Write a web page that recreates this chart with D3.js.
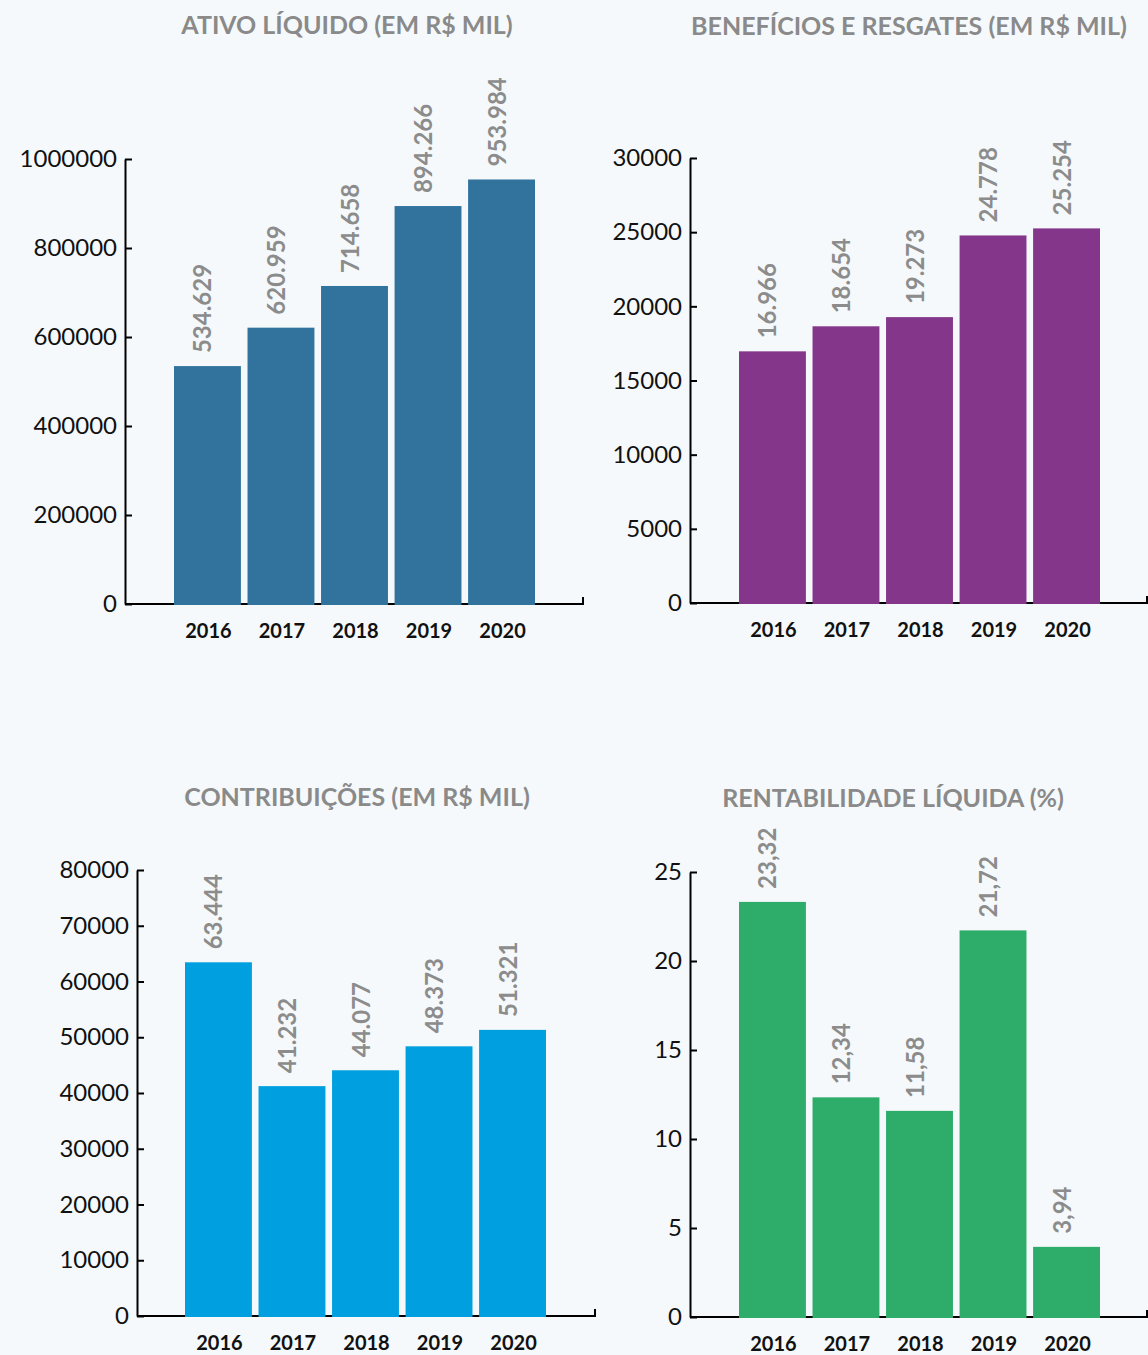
<!DOCTYPE html>
<html>
<head>
<meta charset="utf-8">
<script src="https://cdn.jsdelivr.net/npm/d3@7"></script>
<style>
  body { margin: 0; background: #f5f9fb; }
  svg { display: block; }
</style>
</head>
<body>
<svg id="canvas" width="1148" height="1355"></svg>
<script>
let years = ["2016", "2017", "2018", "2019", "2020"]

let ativoLiquido = [534629, 620959, 714658, 894266, 953984]
let beneficios = [16966, 18654, 19273, 24778, 25254]
let contribuicoes = [63444, 41232, 44077, 48373, 51321]
let rentabilidade = [23.32, 12.34, 11.58, 21.72, 3.94]

let titles = ["ATIVO LÍQUIDO (EM R$ MIL)", "BENEFÍCIOS E RESGATES (EM R$ MIL)", "CONTRIBUIÇÕES (EM R$ MIL)", "RENTABILIDADE LÍQUIDA (%)"]

let ativoTicks = [0, 200000, 400000, 600000, 800000, 1000000]
let beneficiosTicks = [0, 5000, 10000, 15000, 20000, 25000, 30000]
let contribuicoesTicks = [0, 10000, 20000, 30000, 40000, 50000, 60000, 70000, 80000]
let rentabilidadeTicks = [0, 5, 10, 15, 20, 25]

let br = d3.formatLocale({ decimal: ",", thousands: ".", grouping: [3], currency: ["R$", ""] })

let canvas = d3.select("#canvas")

let drawPanel = (cfg) => {
    let g = canvas.append("g")

    let y = d3.scaleLinear()
        .domain([0, d3.max(cfg.ticks)])
        .range([cfg.bottom, cfg.top])

    let x = d3.scaleBand()
        .domain(years)
        .range([cfg.barStart, cfg.barEnd])
        .paddingInner(0.09)
        .paddingOuter(0)

    // titulo
    g.append("text")
        .attr("x", cfg.titleX)
        .attr("y", cfg.titleY)
        .attr("text-anchor", "middle")
        .attr("fill", "#8a8a8a")
        .style("font-family", "Lato, 'Noto Sans', sans-serif")
        .style("font-weight", "bold")
        .style("font-size", "25px")
        .text(cfg.title)

    // eixo x (linha base)
    g.append("path")
        .attr("d", "M" + cfg.axisX + "," + cfg.bottom + "H" + cfg.axisEnd + "V" + (cfg.bottom - 7))
        .attr("fill", "none")
        .attr("stroke", "#000")
        .attr("stroke-width", 2)

    // eixo y
    let yAxis = g.append("g")
        .attr("transform", "translate(" + cfg.axisX + ",0)")
        .call(d3.axisLeft(y)
            .tickValues(cfg.ticks)
            .tickFormat(d3.format("d"))
            .tickSizeInner(-7)
            .tickSizeOuter(0)
            .tickPadding(8))

    yAxis.select(".domain").attr("stroke-width", 2)
    yAxis.selectAll(".tick line").attr("stroke-width", 2)
    yAxis.selectAll(".tick text")
        .attr("fill", "#111")
        .style("font-family", "Lato, 'Noto Sans', sans-serif")
        .style("font-size", "24px")
        .style("font-weight", "400")

    // barras
    g.selectAll("rect")
        .data(cfg.values)
        .enter()
        .append("rect")
        .attr("x", (d, i) => x(years[i]))
        .attr("y", (d) => y(d))
        .attr("width", x.bandwidth())
        .attr("height", (d) => cfg.bottom + 1 - y(d))
        .attr("fill", cfg.color)

    // rotulos dos valores
    g.selectAll(".value")
        .data(cfg.values)
        .enter()
        .append("text")
        .attr("class", "value")
        .attr("transform", (d, i) => "translate(" + (x(years[i]) + x.bandwidth() / 2 + 4) + "," + (y(d) - 13) + ") rotate(-90)")
        .attr("fill", "#8c8c8c")
        .style("font-family", "Lato, 'Noto Sans', sans-serif")
        .style("font-weight", "bold")
        .style("font-size", "24px")
        .text((d) => br.format(cfg.fmt)(d))

    // anos
    g.selectAll(".year")
        .data(years)
        .enter()
        .append("text")
        .attr("class", "year")
        .attr("x", (d) => x(d) + x.bandwidth() / 2 + 1)
        .attr("y", cfg.bottom + 34)
        .attr("text-anchor", "middle")
        .attr("fill", "#111")
        .style("font-family", "Lato, 'Noto Sans', sans-serif")
        .style("font-weight", "bold")
        .style("font-size", "20px")
        .text((d) => d)
}

drawPanel({ title: titles[0], titleX: 347, titleY: 34, values: ativoLiquido, ticks: ativoTicks, fmt: ",d",
    color: "#31739d", axisX: 125, axisEnd: 583, top: 159, bottom: 604, barStart: 174, barEnd: 535 })

drawPanel({ title: titles[1], titleX: 909, titleY: 35, values: beneficios, ticks: beneficiosTicks, fmt: ",d",
    color: "#84368b", axisX: 690, axisEnd: 1147, top: 158, bottom: 603, barStart: 739, barEnd: 1100 })

drawPanel({ title: titles[2], titleX: 357, titleY: 806, values: contribuicoes, ticks: contribuicoesTicks, fmt: ",d",
    color: "#009fdf", axisX: 137, axisEnd: 595, top: 870, bottom: 1316, barStart: 185, barEnd: 546 })

drawPanel({ title: titles[3], titleX: 893, titleY: 807, values: rentabilidade, ticks: rentabilidadeTicks, fmt: ",.2f",
    color: "#2eac6a", axisX: 690, axisEnd: 1147, top: 872, bottom: 1317, barStart: 739, barEnd: 1100 })
</script>
</body>
</html>
